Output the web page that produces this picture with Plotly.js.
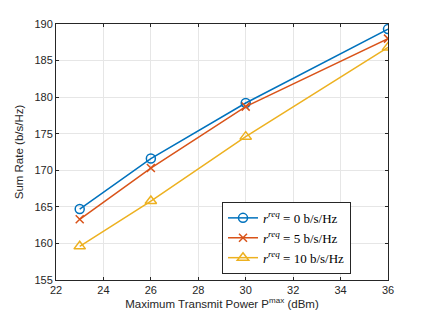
<!DOCTYPE html>
<html>
<head>
<meta charset="utf-8">
<script src="https://cdn.plot.ly/plotly-3.0.1.min.js"></script>
<style>
  html, body { margin: 0; padding: 0; background: #fff; }
  #chart { width: 429px; height: 322px; }
</style>
</head>
<body>
<div id="chart"></div>
<script>
// Transmit power (dBm)
const powerDbm = [23, 26, 30, 36];

// Sum rate (b/s/Hz) for each rate requirement
const rateReq0 = [164.7, 171.6, 179.2, 189.3];
const rateReq5 = [163.3, 170.3, 178.7, 188.0];
const rateReq10 = [159.6, 165.8, 174.6, 186.8];

const seriesNames = [
  '<i>r</i><sup><i>req</i></sup> = 0 b/s/Hz',
  '<i>r</i><sup><i>req</i></sup> = 5 b/s/Hz',
  '<i>r</i><sup><i>req</i></sup> = 10 b/s/Hz'
];

const xTicks = [22, 24, 26, 28, 30, 32, 34, 36];
const yTicks = [155, 160, 165, 170, 175, 180, 185, 190];

const colors = ['#0072BD', '#D95319', '#EDB120'];
const symbols = ['circle-open', 'x-thin-open', 'triangle-up-open'];
const sizes = [9, 8, 10];
const ys = [rateReq0, rateReq5, rateReq10];

const traces = ys.map((y, i) => ({
  x: powerDbm,
  y: y,
  type: 'scatter',
  mode: 'lines+markers',
  name: seriesNames[i],
  line: { color: colors[i], width: 1.5 },
  marker: { symbol: symbols[i], size: sizes[i], color: colors[i], line: { color: colors[i], width: 1.5 } }
}));

const axisCommon = {
  showline: true,
  linecolor: '#262626',
  linewidth: 1,
  mirror: 'ticks',
  ticks: 'inside',
  ticklen: 3,
  tickcolor: '#262626',
  showgrid: true,
  gridcolor: '#e6e6e6',
  gridwidth: 1,
  zeroline: false,
  tickfont: { family: 'Liberation Sans, Arial, sans-serif', size: 11, color: '#262626' }
};

const layout = {
  width: 429,
  height: 322,
  margin: { l: 56, r: 41, t: 24, b: 42 },
  paper_bgcolor: '#fff',
  plot_bgcolor: '#fff',
  showlegend: true,
  font: { family: 'Liberation Sans, Arial, sans-serif', color: '#262626' },
  xaxis: Object.assign({}, axisCommon, {
    range: [22, 36],
    tickvals: xTicks,
    title: { text: 'Maximum Transmit Power P<sup>max</sup> (dBm)', font: { size: 11.5, color: '#262626' }, standoff: 4 }
  }),
  yaxis: Object.assign({}, axisCommon, {
    range: [155, 190],
    tickvals: yTicks,
    title: { text: 'Sum Rate (b/s/Hz)', font: { size: 11.5, color: '#262626' }, standoff: 8 }
  }),
  legend: {
    x: 0.5,
    y: 0.305,
    xanchor: 'left',
    yanchor: 'top',
    bgcolor: '#fff',
    bordercolor: '#262626',
    borderwidth: 1,
    font: { family: 'Liberation Serif, DejaVu Serif, serif', size: 13, color: '#000' },
    tracegroupgap: 0,
    itemwidth: 30
  }
};

Plotly.newPlot('chart', traces, layout, { displayModeBar: false, staticPlot: true });
</script>
</body>
</html>
